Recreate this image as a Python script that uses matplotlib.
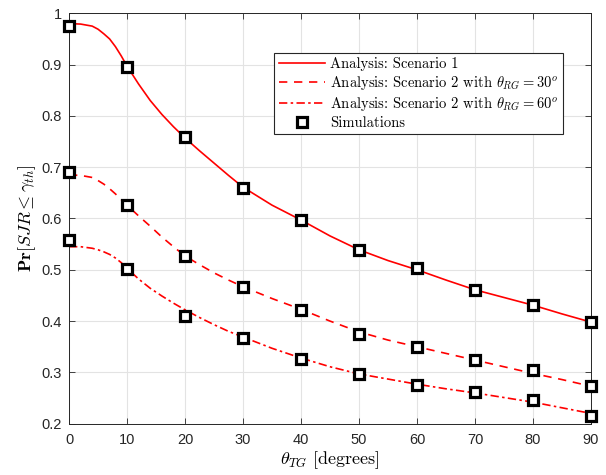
import numpy as np
import matplotlib.pyplot as plt

plt.rcParams['mathtext.fontset'] = 'cm'
plt.rcParams['font.family'] = ['Liberation Sans', 'DejaVu Sans']

# analysis curves
x_curve = [0, 2, 4, 5, 6, 7, 8, 9, 10, 12, 14, 16, 18, 20, 22.5, 25, 27.5, 30,
           35, 40, 45, 50, 55, 60, 65, 70, 75, 80, 85, 90]
scen1 = [0.980, 0.979, 0.975, 0.969, 0.960, 0.950, 0.935, 0.917, 0.897, 0.862,
         0.830, 0.803, 0.779, 0.757, 0.732, 0.708, 0.684, 0.661, 0.626, 0.597,
         0.566, 0.539, 0.518, 0.500, 0.480, 0.461, 0.446, 0.431, 0.414, 0.398]
scen2_30 = [0.685, 0.684, 0.680, 0.674, 0.667, 0.658, 0.648, 0.637, 0.626, 0.605,
            0.585, 0.564, 0.545, 0.527, 0.510, 0.494, 0.480, 0.467, 0.444, 0.423,
            0.400, 0.379, 0.363, 0.350, 0.337, 0.324, 0.311, 0.298, 0.286, 0.273]
scen2_60 = [0.545, 0.545, 0.542, 0.539, 0.535, 0.530, 0.523, 0.514, 0.503, 0.482,
            0.464, 0.449, 0.435, 0.422, 0.407, 0.393, 0.380, 0.369, 0.347, 0.328,
            0.311, 0.297, 0.287, 0.277, 0.268, 0.260, 0.251, 0.242, 0.231, 0.220]

# simulation points
x_sim = [0, 10, 20, 30, 40, 50, 60, 70, 80, 90]
sim1 = [0.976, 0.896, 0.758, 0.659, 0.597, 0.539, 0.503, 0.461, 0.431, 0.398]
sim2_30 = [0.691, 0.626, 0.527, 0.467, 0.422, 0.375, 0.350, 0.324, 0.305, 0.273]
sim2_60 = [0.558, 0.501, 0.409, 0.368, 0.327, 0.297, 0.276, 0.262, 0.246, 0.215]

fig = plt.figure(figsize=(6.06, 4.75), dpi=100)
ax = fig.add_axes([0.1139, 0.108, 0.8614, 0.864])

ax.plot(x_curve, scen1, '-', color='#ff0000', lw=1.2,
        label='Analysis: Scenario 1')
ax.plot(x_curve, scen2_30, '--', color='#ff0000', lw=1.2, dashes=(5, 4),
        label=r'Analysis: Scenario 2 with $\theta_{RG} = 30^o$')
ax.plot(x_curve, scen2_60, '-.', color='#ff0000', lw=1.2, dashes=(5, 2, 1.5, 2),
        label=r'Analysis: Scenario 2 with $\theta_{RG} = 60^o$')

for i, ys in enumerate([sim1, sim2_30, sim2_60]):
    ax.plot(x_sim, ys, 's', ms=6.5, mfc='white', mec='black', mew=2.3,
            linestyle='none', label='Simulations' if i == 0 else None,
            zorder=5, clip_on=False)

ax.set_xlim(0, 90)
ax.set_ylim(0.2, 1.0)
ax.set_xticks(np.arange(0, 91, 10))
ax.set_yticks([0.2, 0.3, 0.4, 0.5, 0.6, 0.7, 0.8, 0.9, 1.0])
ax.set_yticklabels(['0.2', '0.3', '0.4', '0.5', '0.6', '0.7', '0.8', '0.9', '1'])

ax.grid(True, color='#e3e3e3', lw=0.8)
ax.set_axisbelow(True)
ax.tick_params(direction='in', length=4, width=0.6, colors='#262626',
               labelsize=10.5, top=True, right=True)
ax.tick_params(axis='x', pad=7)
ax.tick_params(axis='y', pad=5)
for s in ax.spines.values():
    s.set_color('#262626')
    s.set_linewidth(0.7)

ax.set_xlabel(r'$\theta_{TG}\ \mathrm{[degrees]}$', fontsize=13, labelpad=1)
ax.set_ylabel(r'$\mathbf{Pr}[SJR \leq \gamma_{th}]$', fontsize=13, labelpad=3)

leg = ax.legend(loc='upper right', bbox_to_anchor=(0.946, 0.903),
                borderaxespad=0,
                prop={'family': 'cmr10', 'size': 10.5}, handlelength=3.2,
                frameon=True, fancybox=False, framealpha=1,
                borderpad=0.3, labelspacing=0.2, handletextpad=0.35)
leg.get_frame().set_edgecolor('#262626')
leg.get_frame().set_linewidth(0.8)

fig.savefig('out.png', dpi=100)
